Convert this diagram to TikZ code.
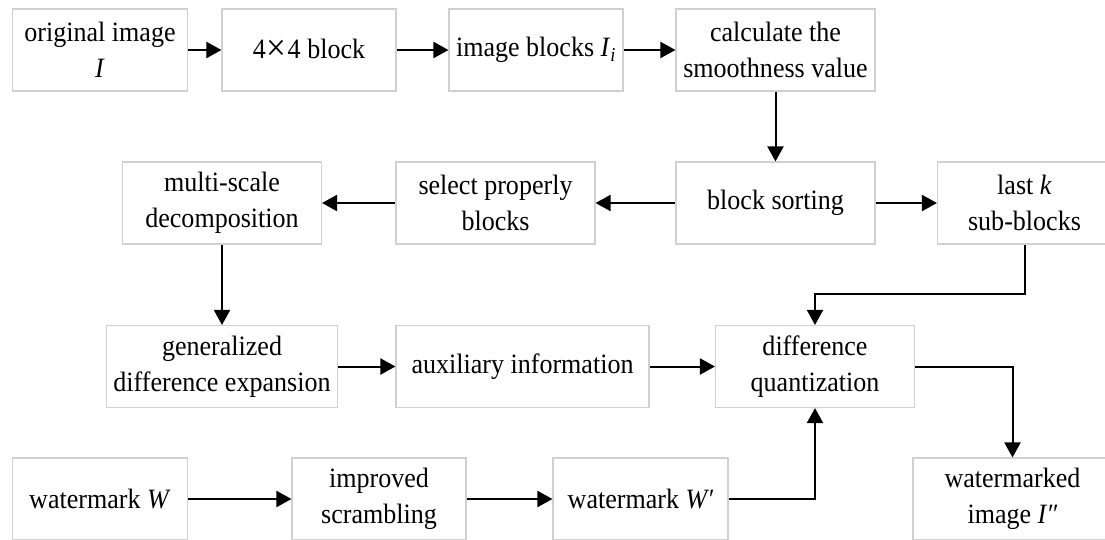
\documentclass[tikz,border=0pt]{standalone}
\usepackage{fontspec}
\usepackage{graphicx}
\setmainfont{Liberation Serif}[FakeStretch=0.93]
\usetikzlibrary{arrows.meta,calc}
\definecolor{boxgray}{RGB}{208,208,208}
\newcommand{\bigtimes}{\raisebox{-2.5pt}{\scalebox{1.35}{×}}}
\tikzset{
  box/.style={draw=boxgray, line width=1.1pt, fill=white, align=center,
    inner sep=0pt, minimum height=82pt, text=black,
    font=\fontsize{28}{36}\selectfont},
  flow/.style={line width=2pt, -{Triangle[length=15pt,width=16pt]}}
}
\begin{document}
\begin{tikzpicture}[x=1pt,y=-1pt]
  \useasboundingbox (0,0) rectangle (1105,539);
  \fill[white] (0,0) rectangle (1105,539);
  \clip (0,0) rectangle (1105,539);

  % first row
  \node[box, minimum width=175pt] (orig)   at (100,50)    {original image\\\textit{I}};
  \node[box, minimum width=174pt] (blk)    at (309,50)    {4\hspace{1pt}\bigtimes\hspace{1pt}4 block};
  \node[box, minimum width=174pt] (imgblk) at (536,50)    {image blocks \textit{I}\textsubscript{\textit{i}}};
  \node[box, minimum width=199pt] (calc)   at (775.5,50)  {calculate the\\smoothness value};

  % second row
  \node[box, minimum width=199pt] (multi)  at (222,203)   {multi-scale\\decomposition};
  \node[box, minimum width=199pt] (select) at (495.5,203) {select properly\\blocks};
  \node[box, minimum width=199pt] (sort)   at (775.5,203) {block sorting};
  \node[box, minimum width=174pt] (lastk)  at (1024.5,203){last \textit{k}\\sub-blocks};

  % third row
  \node[box, minimum width=231pt] (gen)    at (222,366.5) {generalized\\difference expansion};
  \node[box, minimum width=253pt] (aux)    at (522.5,366.5){auxiliary information};
  \node[box, minimum width=199pt] (dq)     at (815,366.5) {difference\\quantization};

  % fourth row
  \node[box, minimum width=175pt] (wm)     at (100,499)   {watermark \textit{W}};
  \node[box, minimum width=174pt] (scr)    at (379,499)   {improved\\scrambling};
  \node[box, minimum width=175pt] (wm2)    at (640.5,499) {watermark \textit{W′}};
  \node[box, minimum width=199pt] (wmi)    at (1012.5,499){watermarked\\image \textit{I″}};

  % connectors
  \draw[flow] (orig) -- (blk);
  \draw[flow] (blk) -- (imgblk);
  \draw[flow] (imgblk) -- (calc);
  \draw[flow] (calc) -- (sort);
  \draw[flow] (sort) -- (select);
  \draw[flow] (select) -- (multi);
  \draw[flow] (sort) -- (lastk);
  \draw[flow] (multi) -- (gen);
  \draw[flow] (lastk.south) |- ([yshift=31pt]dq.north) -- (dq.north);
  \draw[flow] (gen) -- (aux);
  \draw[flow] (aux) -- (dq);
  \draw[flow] (wm) -- (scr);
  \draw[flow] (scr) -- (wm2);
  \draw[flow] (wm2.east) -| (dq.south);
  \draw[flow] (dq.east) -| (wmi.north);
\end{tikzpicture}
\end{document}
